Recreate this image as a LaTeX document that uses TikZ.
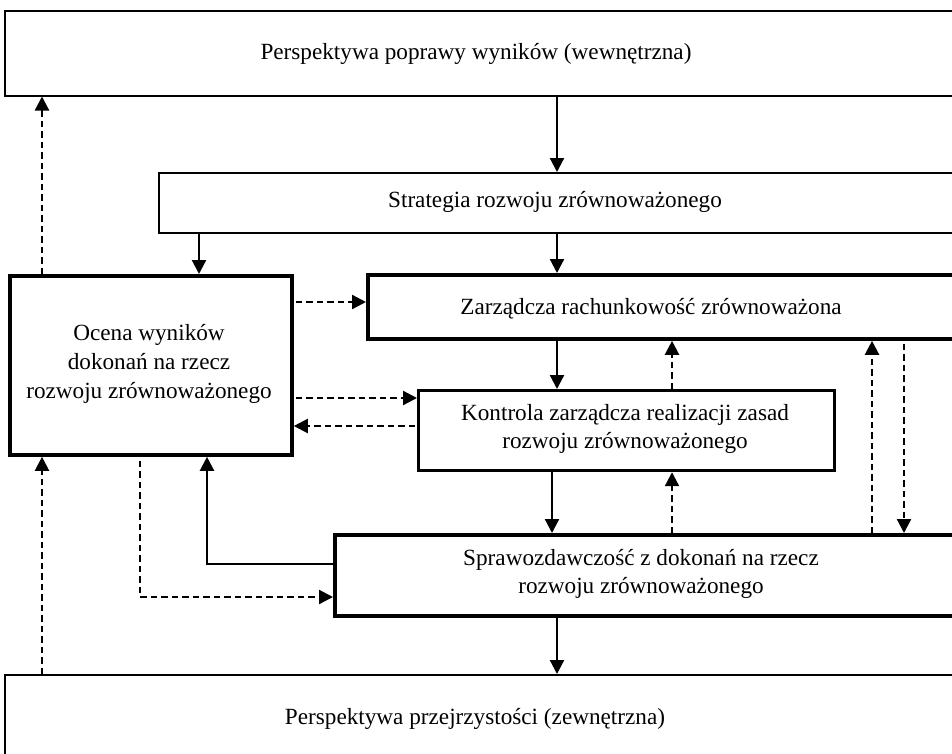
\documentclass[tikz,border=0pt]{standalone}
\usepackage{fontspec}
\setmainfont{Liberation Serif}
\usetikzlibrary{arrows.meta}

\begin{document}
\begin{tikzpicture}[x=1pt,y=-1pt,
  every node/.style={inner sep=0pt, outer sep=0pt},
  txt/.style={font=\fontsize{23.2}{28.8}\selectfont, align=center},
  thinbox/.style={draw, line width=1.5pt, outer sep=auto, anchor=north west},
  thickbox/.style={draw, line width=3.8pt, outer sep=auto, anchor=north west},
  midbox/.style={draw, line width=3.2pt, outer sep=auto, anchor=north west},
  arr/.style={line width=2.2pt, -{Triangle[width=14pt,length=14pt]}},
  darr/.style={arr, dash pattern=on 6.5pt off 4pt}
]
\useasboundingbox (0,0) rectangle (952,753);
\clip (0,0) rectangle (952,753);
\fill[white] (0,0) rectangle (952,753);

% boxes (the wide ones run past the right and bottom edges)
\node[thinbox, minimum width=1000pt, minimum height=85pt] (top) at (4,10) {};
\node[thinbox, minimum width=1000pt, minimum height=60pt] (strat) at (158,172) {};
\node[thickbox, minimum width=282pt, minimum height=179pt] (ocena) at (8,274) {};
\node[thickbox, minimum width=700pt, minimum height=64pt] (zarz) at (366,273) {};
\node[midbox, minimum width=416pt, minimum height=80pt] (kontr) at (417,389) {};
\node[thickbox, minimum width=700pt, minimum height=81pt] (spraw) at (333,533) {};
\node[thinbox, minimum width=1000pt, minimum height=140pt] (bot) at (4,674) {};

% labels
\node[txt] (ttop) at (476,54) {Perspektywa poprawy wyników (wewnętrzna)};
\node[txt] (tstrat) at (555,202) {Strategia rozwoju zrównoważonego};
\node[txt] (tocena) at (149,364) {Ocena wyników\\dokonań na rzecz\\rozwoju zrównoważonego};
\node[txt] (tzarz) at (651,309) {Zarządcza rachunkowość zrównoważona};
\node[txt] (tkontr) at (625,429) {Kontrola zarządcza realizacji zasad\\rozwoju zrównoważonego};
\node[txt] (tspraw) at (641,574) {Sprawozdawczość z dokonań na rzecz\\rozwoju zrównoważonego};
\node[txt] (tbot) at (475,719) {Perspektywa przejrzystości (zewnętrzna)};

% connector columns and rows
\coordinate (xa) at (42,0);
\coordinate (xb) at (140,0);
\coordinate (xc) at (199,0);
\coordinate (xd) at (207,0);
\coordinate (xk) at (552,0);
\coordinate (xm) at (557,0);
\coordinate (xu) at (672,0);
\coordinate (xv) at (872,0);
\coordinate (xw) at (904,0);
\coordinate (r302) at (0,302);
\coordinate (r398) at (0,398);
\coordinate (r426) at (0,426);
\coordinate (r564) at (0,564);
\coordinate (r597) at (0,597);

% solid flows
\draw[arr] (top.south -| xm) -- (strat.north -| xm);
\draw[arr] (strat.south -| xc) -- (ocena.north -| xc);
\draw[arr] (strat.south -| xm) -- (zarz.north -| xm);
\draw[arr] (zarz.south -| xm) -- (kontr.north -| xm);
\draw[arr] (kontr.south -| xk) -- (spraw.north -| xk);
\draw[arr] (spraw.south -| xm) -- (bot.north -| xm);
\draw[arr] (spraw.west |- r564) -| (ocena.south -| xd);

% dashed feedback
\draw[darr, shorten <=2pt] (ocena.east |- r302) -- (zarz.west |- r302);
\draw[darr, shorten <=2pt] (ocena.east |- r398) -- (kontr.west |- r398);
\draw[darr, shorten <=2pt] (kontr.west |- r426) -- (ocena.east |- r426);
\draw[darr] (kontr.north -| xu) -- (zarz.south -| xu);
\draw[darr] (spraw.north -| xu) -- (kontr.south -| xu);
\draw[darr] (spraw.north -| xv) -- (zarz.south -| xv);
\draw[darr, shorten <=3pt] (zarz.south -| xw) -- (spraw.north -| xw);
\draw[darr, shorten <=4pt] (ocena.south -| xb) |- (spraw.west |- r597);
\draw[darr] (bot.north -| xa) -- (ocena.south -| xa);
\draw[darr] (ocena.north -| xa) -- (top.south -| xa);
\end{tikzpicture}
\end{document}
